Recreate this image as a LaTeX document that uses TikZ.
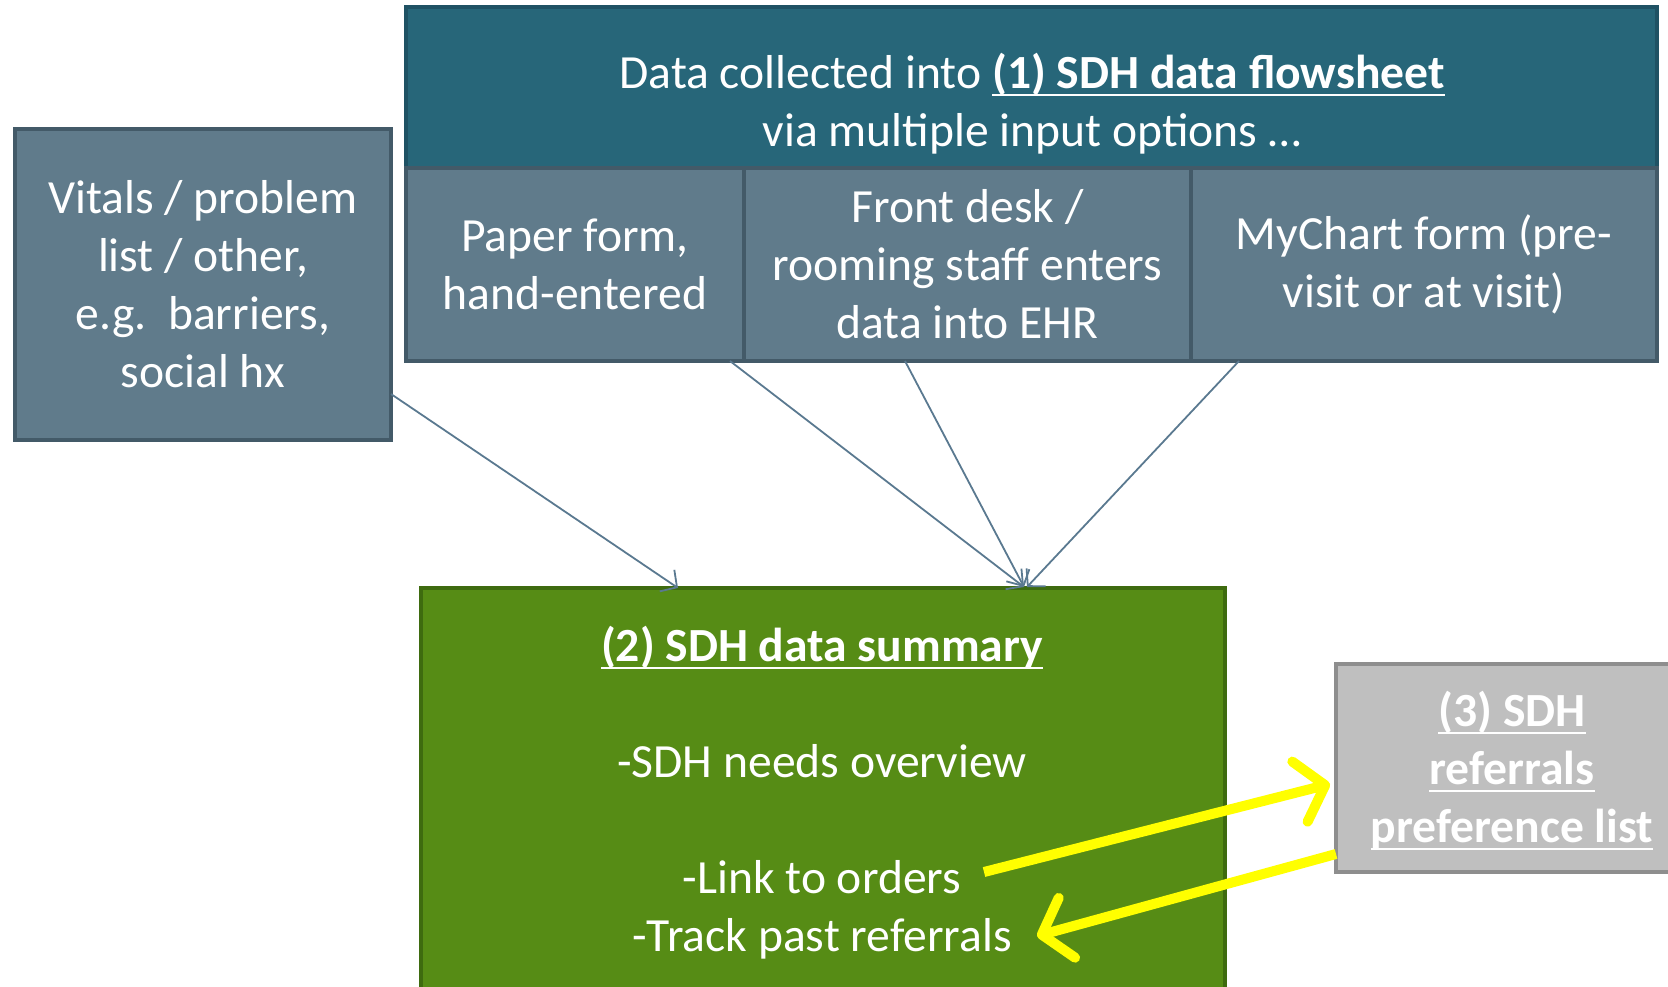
\documentclass[tikz,border=0pt]{standalone}
\usepackage{fontspec}
\setmainfont{Carlito}
\usetikzlibrary{arrows.meta,calc}

\definecolor{hdrfill}{HTML}{276679}
\definecolor{hdrline}{HTML}{1F5264}
\definecolor{slatefill}{HTML}{607B8B}
\definecolor{slateline}{HTML}{435A68}
\definecolor{sumfill}{HTML}{568C15}
\definecolor{sumline}{HTML}{3E6B0F}
\definecolor{reffill}{HTML}{BFBFBF}
\definecolor{refline}{HTML}{8E8E8E}
\definecolor{feedcol}{HTML}{5A7990}
\definecolor{loopcol}{HTML}{FFFF00}

% underline placed just below the baseline
\newcommand\undl[1]{\setbox0\hbox{#1}\rlap{\rule[-0.15em]{\wd0}{0.05em}}\box0}
\newcommand\bigtext{\fontsize{47.6}{58}\selectfont}

\begin{document}
\begin{tikzpicture}[x=1pt,y=-1pt,
  cell/.style={draw=slateline, fill=slatefill, line width=4pt, inner sep=0pt,
               text=white, align=center, font=\bigtext},
  hdrbox/.style={draw=hdrline, fill=hdrfill, line width=4pt, inner sep=0pt},
  sumbox/.style={draw=sumline, fill=sumfill, line width=4pt, inner sep=0pt},
  refbox/.style={draw=refline, fill=reffill, line width=4pt, inner sep=0pt,
               text=white, align=center, font=\bigtext\bfseries},
  label/.style={text=white, align=center, font=\bigtext, inner sep=0pt},
  feed/.style={draw=feedcol, line width=1.8pt,
               -{Straight Barb[length=12pt,width=26pt]}},
  loop/.style={draw=loopcol, line width=10pt, line cap=butt,
               -{Straight Barb[length=26pt,width=62pt,round]}}]

\useasboundingbox (0,0) rectangle (1668,987);
\clip (0,0) rectangle (1668,987);

% header and the three input options
\node[hdrbox, minimum width=1251pt, minimum height=161pt] (hdr) at (1031.5,87.5) {};
\node[label] (hdrtext) at (1032,104)
  {Data collected into \undl{\textbf{(1) SDH data flowsheet}}\\via multiple input options …};
\node[cell, minimum width=338pt, minimum height=193pt] (paper) at (575,264.5)
  {Paper form,\\hand-entered};
\node[cell, minimum width=447pt, minimum height=193pt] (desk) at (967.5,264.5)
  {Front desk /\\rooming staff enters\\data into EHR};
\node[cell, minimum width=466pt, minimum height=193pt] (mychart) at (1424,264.5)
  {MyChart form (pre-\\visit or at visit)};

% other sources
\node[cell, minimum width=376pt, minimum height=311pt] (vitals) at (203,284.5)
  {Vitals / problem\\list / other,\\e.g.\ \ barriers,\\social hx};

% summary
\node[sumbox, minimum width=804pt, minimum height=440pt] (summary) at (823,808) {};
\node[label] (sumtext) at (822,793)
  {\undl{\textbf{(2) SDH data summary}}\\~\\-SDH needs overview\\~\\-Link to orders\\-Track past referrals};

% referrals list
\node[refbox, minimum width=360pt, minimum height=208pt] (refs) at (1516,768)
  {};
\node[label, font=\bigtext\bfseries] (refstext) at (1512,771)
  {\undl{(3) SDH}\\\undl{referrals}\\\undl{preference list}};

% connector end points
\coordinate (vitalsout) at (391,394);
\coordinate (paperout) at (730,361);
\coordinate (deskout) at (905,361);
\coordinate (chartout) at (1239,361);
\coordinate (sumin1) at (678,588);
\coordinate (sumin2) at (1024,587);
\coordinate (sumin3) at (1027,587);
\coordinate (linkout) at (984,872);
\coordinate (refsin) at (1330,784);
\coordinate (refsout) at (1336,854);
\coordinate (trackin) at (1037,936);

\draw[feed] (vitalsout) -- (sumin1);
\draw[feed] (paperout) -- (sumin2);
\draw[feed] (deskout) -- (sumin2);
\draw[feed] (chartout) -- (sumin3);

\draw[loop] (linkout) -- (refsin);
\draw[loop] (refsout) -- (trackin);
\end{tikzpicture}
\end{document}
